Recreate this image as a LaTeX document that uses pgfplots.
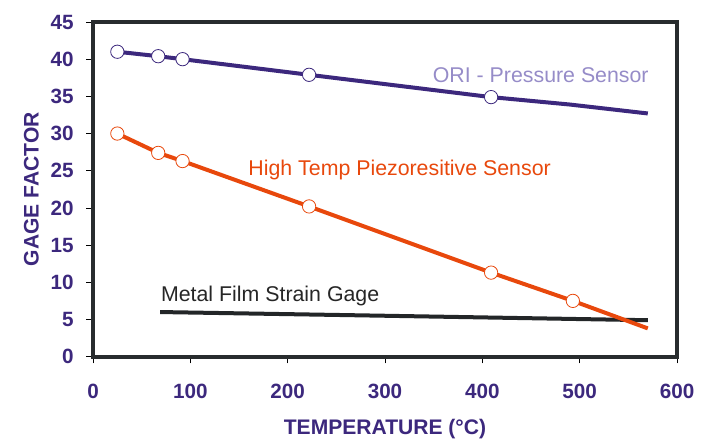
\documentclass[border=0pt]{standalone}
\usepackage{fontspec}
\setmainfont{Liberation Sans}
\usepackage{pgfplots}
\pgfplotsset{compat=1.18}
\definecolor{dpurple}{RGB}{60,40,125}
\definecolor{lpurple}{RGB}{150,140,200}
\definecolor{orired}{RGB}{232,72,12}
\definecolor{frame}{RGB}{40,44,46}
\definecolor{metal}{RGB}{35,38,40}

\begin{document}
\begin{tikzpicture}
\begin{axis}[
    scale only axis,
    width=438pt, height=251pt,
    xmin=0, xmax=600, ymin=0, ymax=45,
    xtick={0,100,...,600},
    ytick={0,5,...,45},
    xtick pos=bottom, ytick pos=left,
    tick align=outside,
    major tick length=5pt,
    tick style={line width=0.6pt, black},
    axis line style={line width=3pt, frame},
    /pgf/number format/assume math mode=true,
    tick label style={font=\fontsize{15.5}{17}\selectfont\bfseries, text=dpurple},
    xticklabel style={yshift=-12pt},
    yticklabel style={xshift=-6pt},
    xlabel={TEMPERATURE (°C)},
    ylabel={GAGE FACTOR},
    label style={font=\fontsize{15.8}{17}\selectfont\bfseries, text=dpurple},
    xlabel style={yshift=-8.5pt},
    ylabel style={yshift=2pt},
    clip=false,
]

% Metal film strain gage
\addplot[metal, line width=3pt, no marks, smooth] coordinates {
    (69, 6.0) (300, 5.5) (570, 4.9)
};

% ORI pressure sensor
\addplot[dpurple, line width=3pt, no marks] coordinates {
    (25, 41.0) (67, 40.4) (92, 40.0) (222, 37.9) (409, 34.9) (490, 33.9) (570, 32.7)
};
\addplot[only marks, mark=*, mark size=5pt,
    mark options={fill=white, draw=dpurple, line width=0.6pt}] coordinates {
    (25, 41.0) (67, 40.4) (92, 40.0) (222, 37.9) (409, 34.9)
};

% High temp piezoresistive sensor
\addplot[orired, line width=3pt, no marks] coordinates {
    (25, 30.0) (67, 27.4) (92, 26.3) (222, 20.2) (409, 11.3) (493, 7.5) (570, 3.8)
};
\addplot[only marks, mark=*, mark size=5pt,
    mark options={fill=white, draw=orired, line width=0.6pt}] coordinates {
    (25, 30.0) (67, 27.4) (92, 26.3) (222, 20.2) (409, 11.3) (493, 7.5)
};

\node[text=lpurple, font=\fontsize{16}{18}\selectfont] at (axis cs:460,37.9) {ORI - Pressure Sensor};
\node[text=orired, font=\fontsize{16}{18}\selectfont] at (axis cs:315,25.1) {High Temp Piezoresitive Sensor};
\node[text=black!85, font=\fontsize{16}{18}\selectfont] at (axis cs:182,8.1) {Metal Film Strain Gage};

\end{axis}
\pgfresetboundingbox
\path[use as bounding box] ([xshift=-69.75pt,yshift=-62.75pt]current axis.south west)
    rectangle ([xshift=23.25pt,yshift=16.5pt]current axis.north east);
\end{tikzpicture}
\end{document}
